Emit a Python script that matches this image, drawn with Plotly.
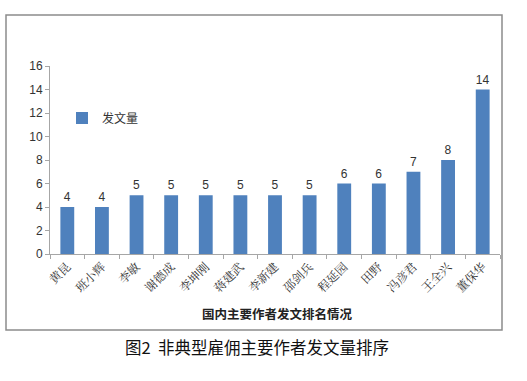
import plotly.graph_objects as go

authors = ["黄昆", "班小辉", "李敏", "谢德成", "李坤刚", "蒋建武", "李新建", "邵剑兵", "程延园", "田野", "冯彦君", "王全兴", "董保华"]
counts = [4, 4, 5, 5, 5, 5, 5, 5, 6, 6, 7, 8, 14]
series_name = "发文量"
y_ticks = [0, 2, 4, 6, 8, 10, 12, 14, 16]

W, H = 527, 381
L, R, T, B = 50, 27, 66, 127
pw, ph = W - L - R, H - T - B

def px(x):
    return (x - L) / pw

def py(y):
    return (H - B - y) / ph

fig = go.Figure()
fig.add_trace(go.Bar(
    x=authors, y=counts, name=series_name,
    marker=dict(color="#4F81BD", line=dict(width=0)),
    width=0.4,
    text=[str(c) for c in counts], textposition="outside",
    textfont=dict(family="Liberation Sans, Arial", size=12, color="#333333"),
    cliponaxis=False,
))

fig.update_layout(
    width=W, height=H,
    margin=dict(l=L, r=R, t=T, b=B),
    paper_bgcolor="white", plot_bgcolor="white",
    showlegend=True,
    legend=dict(x=px(62), y=py(118), xanchor="left", yanchor="middle",
                bgcolor="rgba(0,0,0,0)", itemwidth=30,
                font=dict(family="Noto Sans CJK SC", size=12, color="#333333")),
    font=dict(family="Liberation Sans, Arial", size=12, color="#333333"),
)
fig.update_xaxes(
    showline=True, linecolor="#A6A6A6", linewidth=1,
    ticks="outside", ticklen=4, tickcolor="#A6A6A6",
    tickson="boundaries",
    tickangle=-45,
    tickfont=dict(family="Noto Serif CJK SC, Noto Sans CJK SC", size=12, color="#333333"),
    showgrid=False,
)
fig.update_yaxes(
    range=[0, 16], tickvals=y_ticks,
    showline=True, linecolor="#A6A6A6", linewidth=1,
    ticks="outside", ticklen=4, tickcolor="#A6A6A6",
    showgrid=False, zeroline=False,
    tickfont=dict(family="Liberation Sans, Arial", size=12, color="#333333"),
)

# outer border box
fig.add_shape(type="rect", xref="paper", yref="paper",
              x0=px(6), x1=px(502), y0=py(330), y1=py(15),
              line=dict(color="#8C8C8C", width=1.5), layer="below")

fig.add_annotation(text="<b>国内主要作者发文排名情况</b>", xref="paper", yref="paper",
                   x=px(277), y=py(313), xanchor="center", yanchor="middle", showarrow=False,
                   font=dict(family="Noto Sans CJK SC", size=12.5, color="#222222"))
fig.add_annotation(text="图2  非典型雇佣主要作者发文量排序", xref="paper", yref="paper",
                   x=px(257), y=py(347), xanchor="center", yanchor="middle", showarrow=False,
                   font=dict(family="Noto Sans CJK SC", size=16.5, color="#111111"))

fig.write_html("out.html", config={"displayModeBar": False},
               post_script="document.body.style.margin='0';document.body.style.overflow='hidden';")
